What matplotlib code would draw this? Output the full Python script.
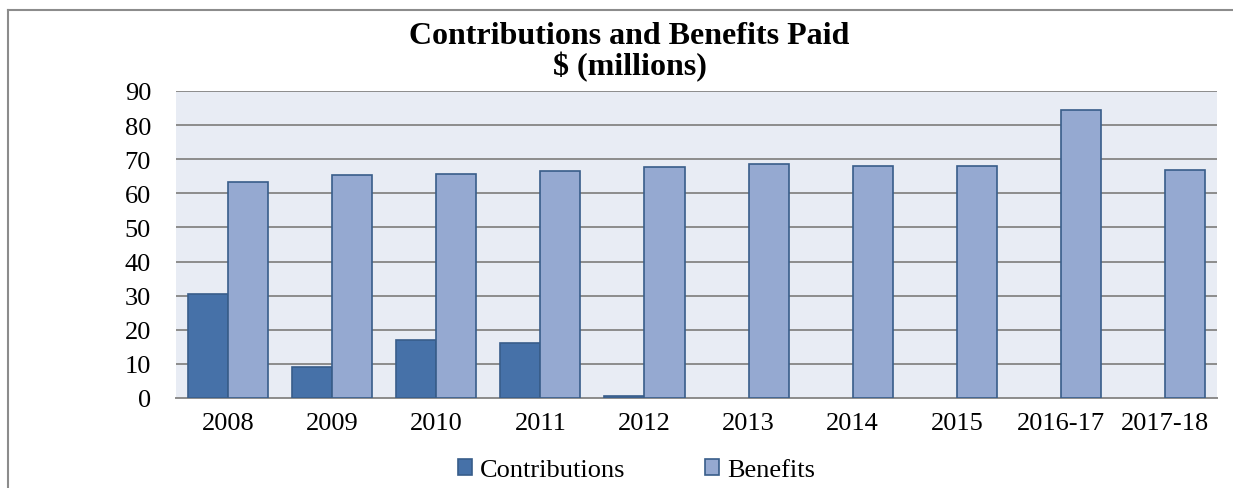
import numpy as np
import matplotlib.pyplot as plt
from matplotlib.lines import Line2D

categories = ['2008', '2009', '2010', '2011', '2012', '2013', '2014', '2015', '2016-17', '2017-18']
contributions = [30.6, 9.2, 17.0, 16.2, 0.5, 0, 0, 0, 0, 0]
benefits = [63.3, 65.3, 65.6, 66.5, 67.6, 68.5, 68.0, 68.0, 84.5, 66.8]

plt.rcParams['font.family'] = 'Liberation Serif'

fig = plt.figure(figsize=(12.33, 4.89), dpi=100)
ax = fig.add_axes([176/1233, 1-399/489, (1217-176)/1233, (399-92)/489])

x = np.arange(len(categories))
w = 0.385
# no outline on empty bars
lw_c = [1.2 if v > 0 else 0 for v in contributions]
ax.bar(x - w/2, contributions, w, color='#4671A8', edgecolor='#385D8A', linewidth=lw_c,
       label='Contributions', zorder=3)
ax.bar(x + w/2, benefits, w, color='#95A9D1', edgecolor='#385D8A', linewidth=1.2,
       label='Benefits', zorder=3)

ax.set_facecolor('#E8ECF4')
ax.set_xlim(-0.5, len(categories) - 0.5)
ax.set_ylim(0, 90)
ax.set_yticks(range(0, 91, 10))
ax.set_xticks(x)
ax.set_xticklabels(categories)
ax.tick_params(axis='both', length=0, labelsize=19)
ax.tick_params(axis='y', pad=18)
ax.tick_params(axis='x', pad=10)
ax.yaxis.grid(True, color='#8C8C8C', linewidth=1.4, zorder=0)
for s in ['left', 'right', 'top']:
    ax.spines[s].set_visible(False)
ax.spines['bottom'].set_color('#8C8C8C')
ax.spines['bottom'].set_linewidth(1.4)

fig.text(0.5 + 13/1233, 1-52/489, 'Contributions and Benefits Paid\n$ (millions)',
         ha='center', va='center', fontsize=23, fontweight='bold', linespacing=1.05)

leg = ax.legend(loc='center', bbox_to_anchor=(0.5 - 60/1041, -72/307), ncol=2, frameon=False,
                fontsize=19, handlelength=0.55, handleheight=0.55, handletextpad=0.3,
                columnspacing=3.0)

# outer chart frame (only left and top edges visible)
fig.add_artist(Line2D([8/1233, 8/1233], [0, 1-11/489], color='#8C8C8C', linewidth=1.5))
fig.add_artist(Line2D([8/1233, 1], [1-11/489, 1-11/489], color='#8C8C8C', linewidth=1.5))

fig.savefig('out.png', dpi=100)
